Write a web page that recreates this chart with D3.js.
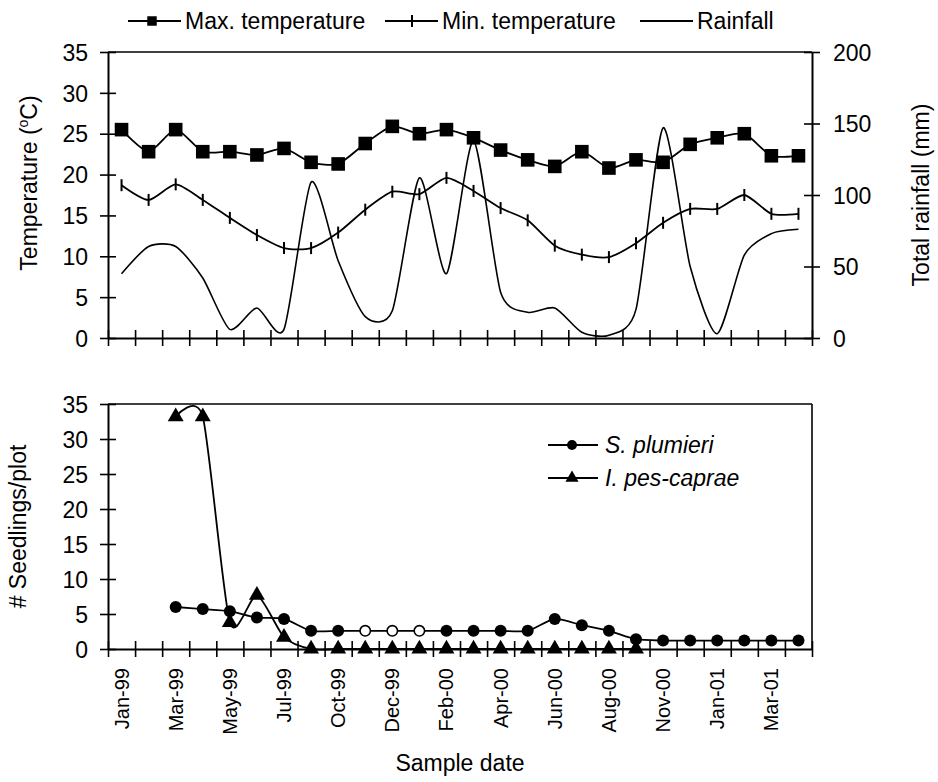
<!DOCTYPE html>
<html><head><meta charset="utf-8">
<script src="https://cdn.jsdelivr.net/npm/d3@7"></script>
<style>
body{margin:0;background:#fff}
text{font-family:Arial,"Liberation Sans",sans-serif;fill:#000}
</style>
</head><body>
<svg id="c" width="938" height="782"></svg>
<script>
// ---- data ----
const categories = ["Jan-99","Feb-99","Mar-99","Apr-99","May-99","Jun-99","Jul-99","Aug-99","Oct-99","Nov-99","Dec-99","Jan-00","Feb-00","Mar-00","Apr-00","May-00","Jun-00","Jul-00","Aug-00","Sep-00","Nov-00","Dec-00","Jan-01","Feb-01","Mar-01","Apr-01"];
const shownLabels = ["Jan-99","Mar-99","May-99","Jul-99","Oct-99","Dec-99","Feb-00","Apr-00","Jun-00","Aug-00","Nov-00","Jan-01","Mar-01"];
const maxTemp = [25.5,22.8,25.5,22.8,22.8,22.4,23.2,21.5,21.3,23.8,25.9,25.0,25.5,24.5,23.0,21.8,21.0,22.8,20.8,21.8,21.5,23.7,24.5,25.0,22.3,22.3];
const minTemp = [18.7,16.9,18.8,16.9,14.7,12.6,11.0,11.0,12.9,15.7,17.9,17.6,19.6,18.0,15.9,14.4,11.3,10.2,9.9,11.6,14.1,15.8,15.8,17.5,15.2,15.2];
const rainfall = [45,64,64,42,6,21,6,109,54,15,19,112,45,138,32,18,21,4,2,20,147,50,3,58,73,76];
const plumieri = [null,null,6.0,5.7,5.4,4.5,4.3,2.6,2.6,2.6,2.6,2.6,2.6,2.6,2.6,2.6,4.3,3.4,2.6,1.4,1.2,1.2,1.2,1.2,1.2,1.2];
const plumieriOpen = ["Nov-99","Dec-99","Jan-00"];
const pesCaprae = [null,null,33.2,33.2,3.8,7.7,1.7,0,0,0,0,0,0,0,0,0,0,0,0,0,null,null,null,null,null,null];
const tempTicks = [0,5,10,15,20,25,30,35];
const rainTicks = [0,50,100,150,200];
const seedTicks = [0,5,10,15,20,25,30,35];

// ---- layout ----
const svg = d3.select("#c");
const L = 108, R = 812;
const T1 = 52, B1 = 338, T2 = 404, B2 = 649;
const FS = 23;

const x = d3.scaleBand().domain(categories).range([L, R]).padding(0);
const cx = d => x(d) + x.bandwidth()/2;
const xEdge = d3.scaleLinear().domain([0, categories.length]).range([L, R]);
const yT = d3.scaleLinear().domain([0,35]).range([B1, T1]);
const yR = d3.scaleLinear().domain([0,200]).range([B1, T1]);
const yS = d3.scaleLinear().domain([0,35]).range([B2, T2]);

function styleAxis(g){
  g.select(".domain").attr("stroke","#000").attr("stroke-width",2);
  g.selectAll(".tick line").attr("stroke","#000").attr("stroke-width",1.6);
  g.selectAll(".tick text").attr("font-size",FS).attr("font-family","Arial, 'Liberation Sans', sans-serif");
}

function edgeTicks(yPos){
  const g = svg.append("g").attr("transform",`translate(0,${yPos})`)
    .call(d3.axisBottom(xEdge).tickValues(d3.range(categories.length+1)).tickFormat("").tickSize(8).tickSizeOuter(0));
  styleAxis(g);
  g.selectAll(".tick line").attr("y1",-8);
  return g;
}

// ===== TOP CHART =====
svg.append("line").attr("x1",L).attr("x2",R).attr("y1",T1).attr("y2",T1).attr("stroke","#000").attr("stroke-width",1.6);

const gl = svg.append("g").attr("transform",`translate(${L},0)`)
  .call(d3.axisLeft(yT).tickValues(tempTicks).tickSize(8).tickSizeOuter(0).tickPadding(12));
styleAxis(gl); gl.selectAll(".tick line").attr("x1",8);
gl.selectAll(".tick text").attr("dy","0.36em");

const gr = svg.append("g").attr("transform",`translate(${R},0)`)
  .call(d3.axisRight(yR).tickValues(rainTicks).tickSize(8).tickSizeOuter(0).tickPadding(13));
styleAxis(gr); gr.selectAll(".tick line").attr("x1",-8);
gr.selectAll(".tick text").attr("dy","0.36em");

edgeTicks(B1);

const curve = d3.curveCardinal.tension(0.3);

// rainfall
svg.append("path").datum(categories.map((c,i)=>[cx(c), yR(rainfall[i])]))
  .attr("d", d3.line().curve(curve)).attr("fill","none").attr("stroke","#000").attr("stroke-width",1.6);

// min temperature
svg.append("path").datum(categories.map((c,i)=>[cx(c), yT(minTemp[i])]))
  .attr("d", d3.line().curve(curve)).attr("fill","none").attr("stroke","#000").attr("stroke-width",1.8);
svg.append("g").selectAll("line").data(categories).join("line")
  .attr("x1",d=>cx(d)).attr("x2",d=>cx(d))
  .attr("y1",(d,i)=>yT(minTemp[i])-6).attr("y2",(d,i)=>yT(minTemp[i])+6)
  .attr("stroke","#000").attr("stroke-width",2);

// max temperature
svg.append("path").datum(categories.map((c,i)=>[cx(c), yT(maxTemp[i])]))
  .attr("d", d3.line().curve(curve)).attr("fill","none").attr("stroke","#000").attr("stroke-width",1.8);
svg.append("g").selectAll("path").data(categories).join("path")
  .attr("transform",(d,i)=>`translate(${cx(d)},${yT(maxTemp[i])})`)
  .attr("d", d3.symbol(d3.symbolSquare, 185)).attr("fill","#000");

// axis titles top
svg.append("text").attr("transform",`translate(37,${(T1+B1)/2 - 12}) rotate(-90)`)
  .attr("text-anchor","middle").attr("font-size",FS)
  .call(t=>{ t.append("tspan").text("Temperature (");
            t.append("tspan").attr("font-size",14).attr("dy",-9).text("o");
            t.append("tspan").attr("dy",9).text("C)"); });
svg.append("text").attr("transform",`translate(929,${(T1+B1)/2}) rotate(-90)`)
  .attr("text-anchor","middle").attr("font-size",FS).text("Total rainfall (mm)");

// top legend
const lg = svg.append("g");
const LY = 21;
lg.append("line").attr("x1",128).attr("x2",181).attr("y1",LY).attr("y2",LY).attr("stroke","#000").attr("stroke-width",1.8);
lg.append("path").attr("transform",`translate(152,${LY})`).attr("d",d3.symbol(d3.symbolSquare,90)).attr("fill","#000");
lg.append("text").attr("x",185).attr("y",LY).attr("dy","0.35em").attr("font-size",FS).text("Max. temperature");
lg.append("line").attr("x1",385).attr("x2",438).attr("y1",LY).attr("y2",LY).attr("stroke","#000").attr("stroke-width",1.8);
lg.append("line").attr("x1",412).attr("x2",412).attr("y1",LY-6).attr("y2",LY+6).attr("stroke","#000").attr("stroke-width",2);
lg.append("text").attr("x",442).attr("y",LY).attr("dy","0.35em").attr("font-size",FS).text("Min. temperature");
lg.append("line").attr("x1",640).attr("x2",693).attr("y1",LY).attr("y2",LY).attr("stroke","#000").attr("stroke-width",1.8);
lg.append("text").attr("x",697).attr("y",LY).attr("dy","0.35em").attr("font-size",FS).text("Rainfall");

// ===== BOTTOM CHART =====
svg.append("line").attr("x1",L).attr("x2",R).attr("y1",T2).attr("y2",T2).attr("stroke","#000").attr("stroke-width",1.6);
svg.append("line").attr("x1",R).attr("x2",R).attr("y1",T2).attr("y2",B2).attr("stroke","#000").attr("stroke-width",1.6);

const gl2 = svg.append("g").attr("transform",`translate(${L},0)`)
  .call(d3.axisLeft(yS).tickValues(seedTicks).tickSize(8).tickSizeOuter(0).tickPadding(12));
styleAxis(gl2); gl2.selectAll(".tick line").attr("x1",8);
gl2.selectAll(".tick text").attr("dy","0.36em");

edgeTicks(B2);

// category labels
const gx = svg.append("g").attr("transform",`translate(0,${B2})`)
  .call(d3.axisBottom(x).tickSize(0).tickFormat(d => shownLabels.includes(d) ? d : ""));
gx.select(".domain").remove();
gx.selectAll(".tick text").attr("font-size",20).attr("font-family","Arial, 'Liberation Sans', sans-serif")
  .attr("transform","rotate(-90)").attr("text-anchor","end").attr("x",-19).attr("y",0).attr("dy","0.35em");

// I. pes-caprae
const pc = categories.map((c,i)=>({c, v:pesCaprae[i]})).filter(d=>d.v!==null);
svg.append("path").datum(pc.map(d=>[cx(d.c), yS(d.v)]))
  .attr("d", d3.line().curve(curve)).attr("fill","none").attr("stroke","#000").attr("stroke-width",1.8);
svg.append("g").selectAll("path").data(pc).join("path")
  .attr("transform",d=>`translate(${cx(d.c)},${yS(d.v)})`)
  .attr("d", d3.symbol(d3.symbolTriangle, 110)).attr("fill","#000");

// S. plumieri
const sp = categories.map((c,i)=>({c, v:plumieri[i]})).filter(d=>d.v!==null);
svg.append("path").datum(sp.map(d=>[cx(d.c), yS(d.v)]))
  .attr("d", d3.line().curve(curve)).attr("fill","none").attr("stroke","#000").attr("stroke-width",1.8);
svg.append("g").selectAll("circle").data(sp).join("circle")
  .attr("cx",d=>cx(d.c)).attr("cy",d=>yS(d.v))
  .attr("r",d=>plumieriOpen.includes(d.c)?5.2:6)
  .attr("fill",d=>plumieriOpen.includes(d.c)?"#fff":"#000")
  .attr("stroke","#000").attr("stroke-width",d=>plumieriOpen.includes(d.c)?1.6:0);

// bottom legend
const lg2 = svg.append("g");
lg2.append("line").attr("x1",548).attr("x2",598).attr("y1",445).attr("y2",445).attr("stroke","#000").attr("stroke-width",1.8);
lg2.append("circle").attr("cx",572).attr("cy",445).attr("r",5).attr("fill","#000");
lg2.append("text").attr("x",605).attr("y",445).attr("dy","0.35em").attr("font-size",FS).attr("font-style","italic").text("S. plumieri");
lg2.append("line").attr("x1",548).attr("x2",598).attr("y1",478).attr("y2",478).attr("stroke","#000").attr("stroke-width",1.8);
lg2.append("path").attr("transform",`translate(572,478)`).attr("d",d3.symbol(d3.symbolTriangle,75)).attr("fill","#000");
lg2.append("text").attr("x",605).attr("y",478).attr("dy","0.35em").attr("font-size",FS).attr("font-style","italic").text("I. pes-caprae");

// bottom titles
svg.append("text").attr("transform",`translate(26,${(T2+B2)/2}) rotate(-90)`)
  .attr("text-anchor","middle").attr("font-size",FS).text("# Seedlings/plot");
svg.append("text").attr("x",(L+R)/2).attr("y",771).attr("text-anchor","middle").attr("font-size",FS).text("Sample date");
</script>
</body></html>
